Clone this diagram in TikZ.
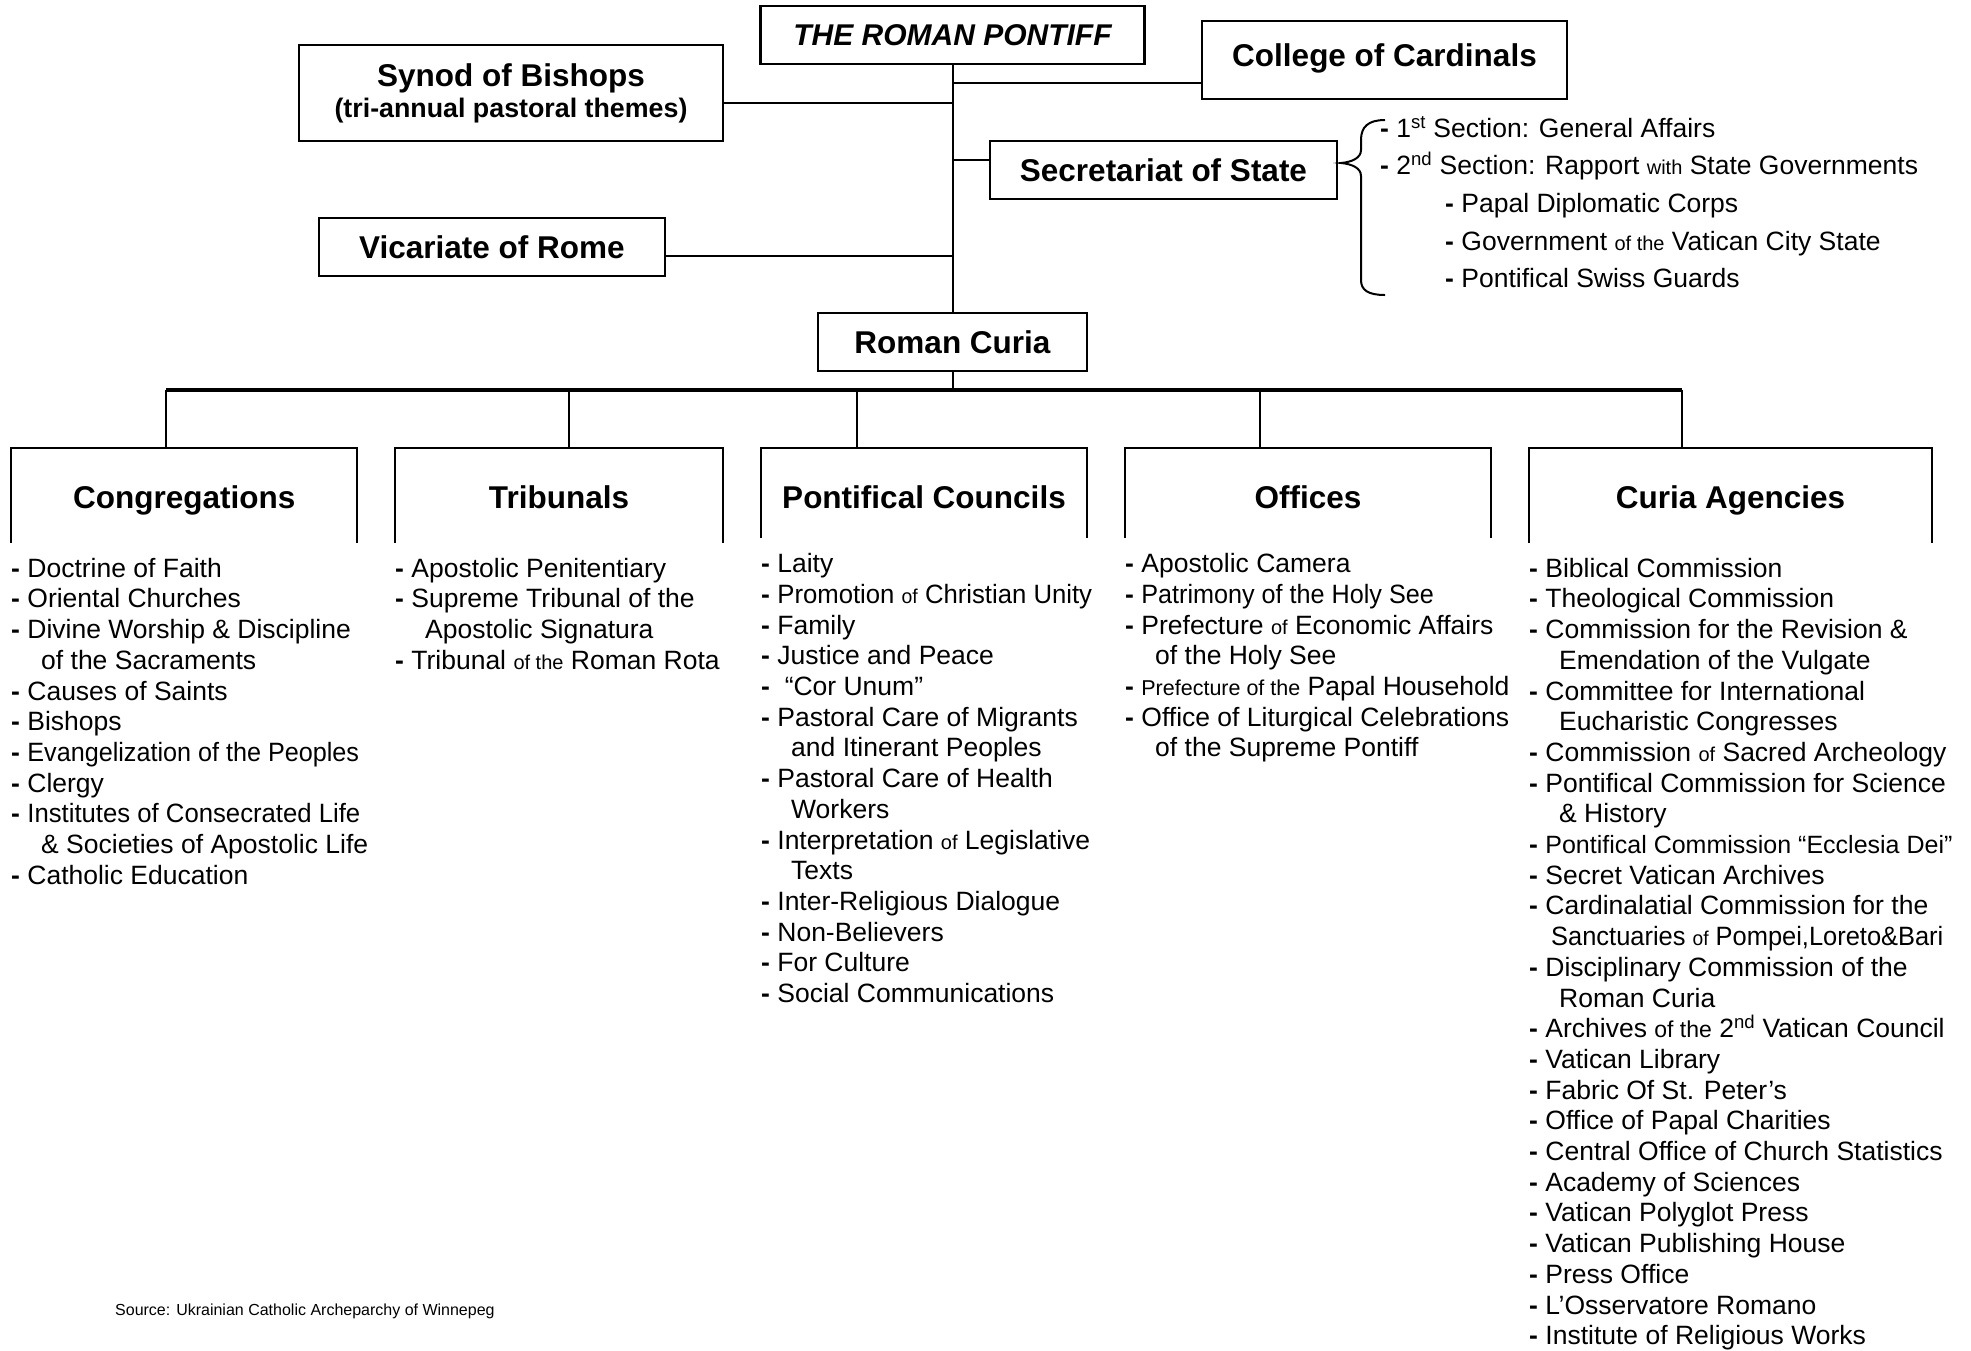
\documentclass[tikz,border=0pt]{standalone}
\usepackage{graphicx}
\usepackage{fontspec}
\setmainfont{Liberation Sans}
\newcommand\itemdash{\strut\textbf{-}\ }
\newcommand\contline{\hspace*{30pt}}
\newcommand\smallword[1]{{\fontsize{20}{30.7}\selectfont #1}}
\newcommand\squeeze[2]{\scalebox{#1}[1]{#2}}
\begin{document}
\begin{tikzpicture}[x=1pt, y=-1pt,
		box/.style={draw, line width=2.2pt, inner sep=0pt, font=\bfseries\fontsize{31.5}{36}\selectfont},
		catbox/.style={inner sep=0pt, text height=25pt, text depth=0pt, font=\bfseries\fontsize{31.5}{36}\selectfont},
		sides/.style={line width=2.2pt},
		conn/.style={line width=2pt},
		bar/.style={line width=3.5pt},
		list/.style={anchor=north west, inner sep=0pt, align=left, font=\fontsize{26.5}{30.7}\selectfont}]
		\useasboundingbox (0,0) rectangle (1971,1350);
		% the pope and the boxes round him
		\node[box, minimum width=384pt, minimum height=58pt] (pontiff) at (952.5,35) {\itshape\fontsize{30}{36}\selectfont THE ROMAN PONTIFF};
		\node[box, minimum width=365pt, minimum height=78pt] (college) at (1384.5,60) {\raisebox{10pt}{College of Cardinals}};
		\node[box, minimum width=424pt, minimum height=96pt, align=center, font=\bfseries\fontsize{31.5}{31}\selectfont] (synod) at (511,93) {Synod of Bishops\\{\fontsize{26.8}{31}\selectfont (tri-annual pastoral themes)}};
		\node[box, minimum width=347pt, minimum height=58pt] (secretariat) at (1163.5,170) {Secretariat of State};
		\node[box, minimum width=346pt, minimum height=58pt] (vicariate) at (492,247) {Vicariate of Rome};
		\node[box, minimum width=269pt, minimum height=58pt] (curia) at (952.5,342) {Roman Curia};
		% vertical trunk
		\draw[conn] (pontiff.south) -- (curia.north);
		% side branches
		\draw[conn] ([yshift=-10pt]synod.east) -- ([yshift=-10pt]synod.east -| pontiff.south);
		\draw[conn] ([yshift=-23pt]college.west) -- ([yshift=-23pt]college.west -| pontiff.south);
		\draw[conn] ([yshift=10pt]secretariat.west) -- ([yshift=10pt]secretariat.west -| pontiff.south);
		\draw[conn] ([yshift=-9pt]vicariate.east) -- ([yshift=-9pt]vicariate.east -| pontiff.south);
		% brace of the secretariat
		\draw[conn] (1385,120) .. controls (1368,120) and (1361,127) .. (1361,140) -- (1361,150) .. controls (1361,158) and (1352,162) .. (1341,163) .. controls (1352,164) and (1361,168) .. (1361,176) -- (1361,280) .. controls (1361,290) and (1368,295) .. (1385,295);
		\node[list, font=\fontsize{26.5}{37.7}\selectfont] (secList) at (1380,110.6) {\itemdash 1\textsuperscript{st} Section: General Affairs\\
			\itemdash 2\textsuperscript{nd} Section: Rapport \smallword{with} State Governments\\
			\hspace*{65pt}\itemdash Papal Diplomatic Corps\\
			\hspace*{65pt}\itemdash Government \smallword{of the} Vatican City State\\
			\hspace*{65pt}\itemdash Pontifical Swiss Guards};
		% the five departments
		\node[catbox, minimum width=345.5pt, minimum height=95pt] (cong) at (184.25,495.5) {Congregations};
		\node[catbox, minimum width=327.2pt, minimum height=95pt] (trib) at (559,495.5) {Tribunals};
		\node[catbox, minimum width=326.3pt, minimum height=90pt, text height=30pt] (pont) at (924,493) {Pontifical Councils};
		\node[catbox, minimum width=366pt, minimum height=90pt, text height=30pt] (off) at (1308,493) {Offices};
		\node[catbox, minimum width=403pt, minimum height=95pt] (agen) at (1730.5,495.5) {Curia Agencies};
		\draw[sides] (cong.south west) |- (cong.north) -| (cong.south east);
		\draw[sides] (trib.south west) |- (trib.north) -| (trib.south east);
		\draw[sides] (pont.south west) |- (pont.north) -| (pont.south east);
		\draw[sides] (off.south west) |- (off.north) -| (off.south east);
		\draw[sides] (agen.south west) |- (agen.north) -| (agen.south east);
		% horizontal bar
		\coordinate (dropC) at (166,390);
		\coordinate (dropT) at (569,390);
		\coordinate (dropP) at (856.5,390);
		\coordinate (dropO) at (1260,390);
		\coordinate (dropA) at (1682,390);
		\draw[conn] (curia.south) -- (curia.south |- dropC);
		\draw[bar] (dropC) -- (dropA);
		\draw[conn] (dropC) -- (dropC |- cong.north);
		\draw[conn] (dropT) -- (dropT |- trib.north);
		\draw[conn] (dropP) -- (dropP |- pont.north);
		\draw[conn] (dropO) -- (dropO |- off.north);
		\draw[conn] (dropA) -- (dropA |- agen.north);
		% lists
		\node[list] (congList) at (11,555.5) {\itemdash Doctrine of Faith\\
			\itemdash Oriental Churches\\
			\itemdash Divine Worship \& Discipline\\
			\contline of the Sacraments\\
			\itemdash Causes of Saints\\
			\itemdash Bishops\\
			\itemdash \squeeze{0.95}{Evangelization of the Peoples}\\
			\itemdash Clergy\\
			\itemdash \squeeze{0.97}{Institutes of Consecrated Life}\\
			\contline \& Societies of Apostolic Life\\
			\itemdash Catholic Education};
		\node[list] (tribList) at (395,555.5) {\itemdash Apostolic Penitentiary\\
			\itemdash Supreme Tribunal of the\\
			\contline Apostolic Signatura\\
			\itemdash Tribunal \smallword{of the} Roman Rota};
		\node[list] (pontList) at (761,551) {\itemdash Laity\\
			\itemdash \squeeze{0.97}{Promotion \smallword{of} Christian Unity}\\
			\itemdash Family\\
			\itemdash Justice and Peace\\
			\itemdash\ “Cor Unum”\\
			\itemdash Pastoral Care of Migrants\\
			\contline and Itinerant Peoples\\
			\itemdash Pastoral Care of Health\\
			\contline Workers\\
			\itemdash Interpretation \smallword{of} Legislative\\
			\contline Texts\\
			\itemdash Inter-Religious Dialogue\\
			\itemdash Non-Believers\\
			\itemdash For Culture\\
			\itemdash Social Communications};
		\node[list] (offList) at (1125,551) {\itemdash Apostolic Camera\\
			\itemdash \squeeze{0.95}{Patrimony of the Holy See}\\
			\itemdash Prefecture \smallword{of} Economic Affairs\\
			\contline of the Holy See\\
			\itemdash {\fontsize{21.5}{30.7}\selectfont Prefecture of the} Papal Household\\
			\itemdash Office of Liturgical Celebrations\\
			\contline of the Supreme Pontiff};
		\node[list] (agenList) at (1529,555.5) {\itemdash Biblical Commission\\
			\itemdash Theological Commission\\
			\itemdash Commission for the Revision \&\\
			\contline Emendation of the Vulgate\\
			\itemdash Committee for International\\
			\contline Eucharistic Congresses\\
			\itemdash Commission \smallword{of} Sacred Archeology\\
			\itemdash Pontifical Commission for Science\\
			\contline \& History\\
			\itemdash {\fontsize{25}{30.7}\selectfont Pontifical Commission “Ecclesia Dei”}\\
			\itemdash Secret Vatican Archives\\
			\itemdash Cardinalatial Commission for the\\
			\hspace*{22pt}\squeeze{0.96}{Sanctuaries \smallword{of} Pompei,Loreto\&Bari}\\
			\itemdash Disciplinary Commission of the\\
			\contline Roman Curia\\
			\itemdash Archives {\fontsize{23}{30.7}\selectfont of the} 2\textsuperscript{nd} Vatican Council\\
			\itemdash Vatican Library\\
			\itemdash Fabric Of St. Peter’s\\
			\itemdash Office of Papal Charities\\
			\itemdash Central Office of Church Statistics\\
			\itemdash Academy of Sciences\\
			\itemdash Vatican Polyglot Press\\
			\itemdash Vatican Publishing House\\
			\itemdash Press Office\\
			\itemdash L’Osservatore Romano\\
			\itemdash Institute of Religious Works};
		% source line
		\node[anchor=west, inner sep=0pt, font=\fontsize{16}{19}\selectfont] (source) at (115,1311) {Source: Ukrainian Catholic Archeparchy of Winnepeg};
	\end{tikzpicture}
\end{document}
